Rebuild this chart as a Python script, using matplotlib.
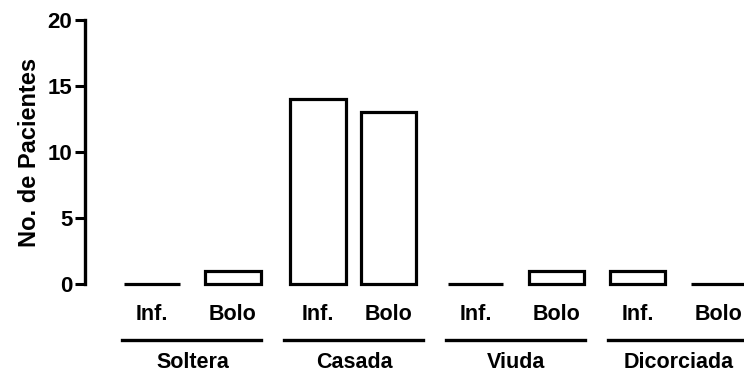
import numpy as np
import matplotlib.pyplot as plt
from matplotlib.transforms import blended_transform_factory

# Patients by marital status and anesthesia mode
groups = ['Soltera', 'Casada', 'Viuda', 'Dicorciada']
modes = ['Inf.', 'Bolo']
values = [0, 1, 14, 13, 0, 1, 1, 0]

plt.rcParams['font.family'] = ['Liberation Sans', 'DejaVu Sans']
plt.rcParams['font.weight'] = 'bold'

fig = plt.figure(figsize=(7.44, 3.73), dpi=100)
ax = fig.add_axes([85 / 744, 89 / 373, 1 - 85 / 744, 264 / 373])

# bar slots (Casada pair sits a little closer together)
x = np.array([0, 1, 2.05, 2.92, 4, 5, 6, 7])
ax.bar(x, values, width=0.68, facecolor='white', edgecolor='black',
       linewidth=2.3, clip_on=False)

ax.set_xlim(-0.827, 7.31)
ax.set_ylim(0, 20)
ax.set_yticks([0, 5, 10, 15, 20])
ax.tick_params(axis='y', length=7, width=2.2, labelsize=16, pad=2)
ax.set_xticks([])
for lbl in ax.get_yticklabels():
    lbl.set_fontweight('bold')

for s in ['top', 'right', 'bottom']:
    ax.spines[s].set_visible(False)
ax.spines['left'].set_linewidth(2.4)
ax.spines['left'].set_bounds(0, 20)

ax.set_ylabel('No. de Pacientes', fontsize=17, fontweight='bold', labelpad=5)

# Mode labels under each bar, then a rule and group name under each pair
trans = blended_transform_factory(ax.transData, fig.transFigure)
for i, xi in enumerate(x):
    ax.text(xi, 58 / 373, modes[i % 2], transform=trans, ha='center',
            va='center', fontsize=15.5, fontweight='bold')
for g, name in enumerate(groups):
    left, right = 2 * g - 0.37, 2 * g + 1.35
    ax.plot([left, right], [33 / 373, 33 / 373], color='black', lw=2.4,
            transform=trans, clip_on=False)
    ax.text(2 * g + 0.5, 10 / 373, name, transform=trans, ha='center',
            va='center', fontsize=15.5, fontweight='bold')

fig.savefig('out.png', dpi=100)
